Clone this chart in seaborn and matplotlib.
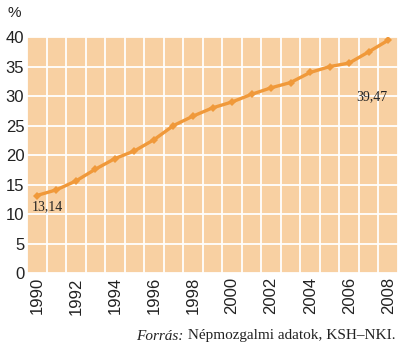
import matplotlib

matplotlib.use('Agg')

import matplotlib.pyplot as plt
import numpy as np
import pandas as pd
import seaborn as sns
from matplotlib.ticker import FixedLocator

# share in percent, 1990-2008
years = [1990, 1991, 1992, 1993, 1994, 1995, 1996, 1997, 1998, 1999,
         2000, 2001, 2002, 2003, 2004, 2005, 2006, 2007, 2008]
values = [13.14, 14.1, 15.6, 17.6, 19.4, 20.7, 22.6, 25.0, 26.6, 28.0,
          29.0, 30.3, 31.4, 32.3, 34.0, 35.0, 35.6, 37.5, 39.47]
y_ticks = [0, 5, 10, 15, 20, 25, 30, 35, 40]
x_ticks = [1990, 1992, 1994, 1996, 1998, 2000, 2002, 2004, 2006, 2008]
first_label = "13,14"
last_label = "39,47"
source_italic = "Forrás:"
source_rest = " Népmozgalmi adatok, KSH–NKI."

FILL = '#F8D0A2'
LINE = '#F0993A'

sns.set_theme(style='white')
plt.rcParams['font.family'] = ['Liberation Sans', 'DejaVu Sans']
plt.rcParams['axes.facecolor'] = FILL

df = pd.DataFrame({'year': years, 'value': values})

fig = plt.figure(figsize=(3.98, 3.58), dpi=100)
ax = fig.add_axes([0.068, 0.2374, 0.932, 0.659])

sns.lineplot(data=df, x='year', y='value', ax=ax, color=LINE, linewidth=2.4,
             marker='D', markersize=4.5, markeredgewidth=0, zorder=3)

ax.set_xlim(years[0] - 0.5, years[-1] + 0.5)
ax.set_ylim(y_ticks[0], y_ticks[-1])
ax.set_yticks(y_ticks)
ax.set_xticks(x_ticks)
ax.set_xticklabels([str(x) for x in x_ticks], rotation=90)
ax.xaxis.set_minor_locator(FixedLocator(np.arange(years[0] - 0.5, years[-1] + 1, 1.0)))
ax.grid(False)
ax.grid(True, which='minor', axis='x', color='white', linewidth=1.3)
ax.grid(True, which='major', axis='y', color='white', linewidth=1.3)
ax.set_axisbelow(True)
for s in ax.spines.values():
    s.set_visible(False)
ax.tick_params(axis='both', which='both', length=0, labelsize=12, colors='#222222')
ax.tick_params(axis='y', pad=2)
ax.tick_params(axis='x', pad=3)
ax.set_xlabel('')
ax.set_ylabel('')

ax.annotate(first_label, (years[0], values[0]), xytext=(-3.5, -8), textcoords='offset points',
            ha='left', va='center', fontsize=10, family='Liberation Serif', color='#222222')
ax.annotate(last_label, (years[-1], values[-1]), xytext=(-12, -41), textcoords='offset points',
            ha='center', va='center', fontsize=10, family='Liberation Serif', color='#222222')

fig.text(14 / 398, 1 - 13 / 358, '%', ha='center', va='center', fontsize=11, color='#222222')

src = fig.text(395 / 398, 1 - 336 / 358, source_rest, ha='right', va='center',
               fontsize=11, family='Liberation Serif', color='#222222')
fig.canvas.draw()
bb = src.get_window_extent()
fig.text(bb.x0 / fig.bbox.width, 1 - 336 / 358, source_italic, ha='right', va='center',
         fontsize=11, family='Liberation Serif', style='italic', color='#222222')

fig.savefig('out.png', dpi=100)
